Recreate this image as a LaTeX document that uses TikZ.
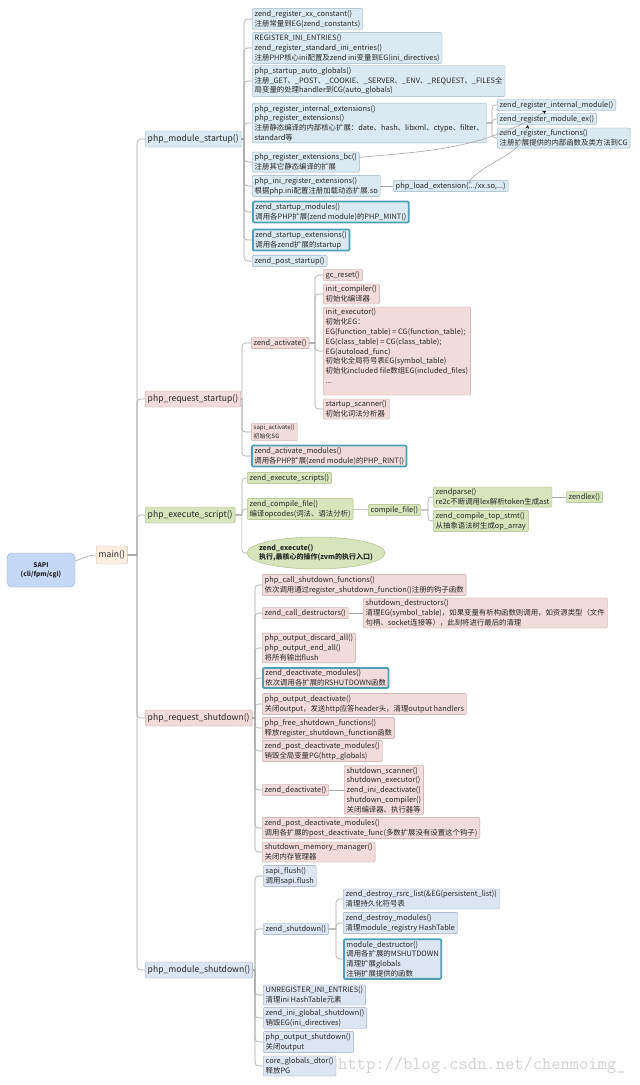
\documentclass[tikz,border=0pt]{standalone}
\usepackage{fontspec}
\setmainfont{Noto Sans CJK SC}
\usetikzlibrary{shapes.geometric,calc}
\definecolor{linkcol}{RGB}{165,165,165}
\definecolor{startfill}{RGB}{219,234,242}
\definecolor{startline}{RGB}{150,180,196}
\definecolor{reqfill}{RGB}{242,220,219}
\definecolor{reqline}{RGB}{196,160,160}
\definecolor{execfill}{RGB}{215,228,188}
\definecolor{execline}{RGB}{168,186,130}
\definecolor{stopfill}{RGB}{220,230,242}
\definecolor{stopline}{RGB}{150,168,196}
\definecolor{sapifill}{RGB}{197,217,247}
\definecolor{sapiline}{RGB}{140,170,215}
\definecolor{mainfill}{RGB}{253,238,226}
\definecolor{mainline}{RGB}{214,190,170}
\definecolor{hotline}{RGB}{78,160,184}

\begin{document}
\begin{tikzpicture}[x=1pt,y=1pt,>=stealth,
	fn node/.style={draw,rounded corners=1.2pt,anchor=west,align=left,inner xsep=2.5pt,inner ysep=1.8pt,text=black!85,font=\fontsize{7.4}{9.8}\selectfont},
	top node/.style={fn node,minimum height=16pt,font=\fontsize{8.6}{10}\selectfont},
	sapi node/.style={draw=sapiline,fill=sapifill,rounded corners=5pt,minimum width=68pt,minimum height=34pt,align=center,text=black!85,font=\fontsize{6.5}{9}\selectfont\bfseries},
	startup col/.style={fill=startfill,draw=startline},
	request col/.style={fill=reqfill,draw=reqline},
	execute col/.style={fill=execfill,draw=execline},
	shutdown col/.style={fill=stopfill,draw=stopline},
	hot/.style={draw=hotline,line width=1.8pt},
	branch/.style={to path={(\tikztostart.east) -- ($(\tikztostart.east -| \tikztotarget.west)+(-#1,0)$) ($(\tikztostart.east -| \tikztotarget.west)+(-#1,0)$) [rounded corners=3.5pt] |- (\tikztotarget.west)}},
	branch/.default=7pt,
	link/.style={draw=linkcol,line width=0.6pt}]

	\fill[white] (0,0) rectangle (640,-1085);
	\useasboundingbox (0,0) rectangle (640,-1085);

	\node[anchor=west,inner sep=0pt,text=black!18,font=\ttfamily\fontsize{18}{18}\selectfont] (mark) at (338,-1065) {http://blog.csdn.net/chenmoimg\_};

	\node[sapi node] (sapi) at (41,-570) {SAPI\\(cli/fpm/cgi)};
	\node[top node,fill=mainfill,draw=mainline,minimum height=18pt] (main) at (96,-555) {main()};

	\node[top node,startup col] (mstart) at (145,-139) {php\_module\_startup()};
	\node[top node,request col] (rstart) at (145,-399) {php\_request\_startup()};
	\node[top node,execute col] (exec) at (145,-515) {php\_execute\_script()};
	\node[top node,request col] (rstop) at (145,-718) {php\_request\_shutdown()};
	\node[top node,shutdown col] (mstop) at (145,-970) {php\_module\_shutdown()};

	\node[fn node,startup col] (s1) at (252,-19) {zend\_register\_xx\_constant()\\注册常量到EG(zend\_constants)};
	\node[fn node,startup col] (s2) at (252,-48) {REGISTER\_INI\_ENTRIES()\\zend\_register\_standard\_ini\_entries()\\注册PHP核心ini配置及zend ini变量到EG(ini\_directives)};
	\node[fn node,startup col] (s3) at (252,-81) {php\_startup\_auto\_globals()\\注册\_GET、\_POST、\_COOKIE、\_SERVER、\_ENV、\_REQUEST、\_FILES全\\局变量的处理handler到CG(auto\_globals)};
	\node[fn node,startup col] (s4) at (252,-123) {php\_register\_internal\_extensions()\\php\_register\_extensions()\\注册静态编译的内部核心扩展：date、hash、libxml、ctype、filter、\\standard等};
	\node[fn node,startup col] (s41) at (497,-105) {zend\_register\_internal\_module()};
	\node[fn node,startup col] (s42) at (497,-119) {zend\_register\_module\_ex()};
	\node[fn node,startup col] (s43) at (497,-138) {zend\_register\_functions()\\注册扩展提供的内部函数及类方法到CG};
	\node[fn node,startup col] (s5) at (252,-162) {php\_register\_extensions\_bc()\\注册其它静态编译的扩展};
	\node[fn node,startup col] (s6) at (252,-186) {php\_ini\_register\_extensions()\\根据php.ini配置注册加载动态扩展.so};
	\node[fn node,startup col] (s61) at (393,-186) {php\_load\_extension(.../xx.so,...)};
	\node[fn node,startup col,hot] (s7) at (252,-212) {zend\_startup\_modules()\\调用各PHP扩展(zend module)的PHP\_MINT()};
	\node[fn node,startup col,hot] (s8) at (252,-240) {zend\_startup\_extensions()\\调用各zend扩展的startup};
	\node[fn node,startup col] (s9) at (252,-261) {zend\_post\_startup()};

	\node[fn node,request col] (r1) at (251,-343) {zend\_activate()};
	\node[fn node,request col] (r11) at (323,-275) {gc\_reset()};
	\node[fn node,request col] (r12) at (323,-294) {init\_compiler()\\初始化编译器};
	\node[fn node,request col] (r13) at (323,-351) {init\_executor()\\初始化EG：\\EG(function\_table) = CG(function\_table);\\EG(class\_table) = CG(class\_table);\\EG(autoload\_func)\\初始化全局符号表EG(symbol\_table)\\初始化included file数组EG(included\_files)\\...\\ };
	\node[fn node,request col] (r14) at (323,-409) {startup\_scanner()\\初始化词法分析器};
	\node[fn node,request col,font=\fontsize{6}{8.5}\selectfont] (r2) at (251,-432) {sapi\_activate()\\初始化SG};
	\node[fn node,request col,hot] (r3) at (251,-456) {zend\_activate\_modules()\\调用各PHP扩展(zend module)的PHP\_RINT()};

	\node[fn node,execute col] (e1) at (247,-478) {zend\_execute\_scripts()};
	\node[fn node,execute col] (e2) at (247,-509) {zend\_compile\_file()\\编译opcodes(词法、语法分析)};
	\node[fn node,execute col] (e21) at (368,-510) {compile\_file()};
	\node[fn node,execute col] (e211) at (433,-497) {zendparse()\\re2c不断调用lex解析token生成ast};
	\node[fn node,execute col] (e2111) at (566,-497) {zendlex()};
	\node[fn node,execute col] (e212) at (433,-521) {zend\_compile\_top\_stmt()\\从抽象语法树生成op\_array};
	\node[fn node,execute col,ellipse,anchor=center,minimum width=138pt,minimum height=32pt,inner xsep=-16pt,inner ysep=2pt,font=\fontsize{7}{9.4}\selectfont\bfseries] (e3) at (316,-553) {zend\_execute()\\执行,最核心的操作(zvm的执行入口)};

	\node[fn node,request col] (q1) at (262,-585) {php\_call\_shutdown\_functions()\\依次调用通过register\_shutdown\_function()注册的钩子函数};
	\node[fn node,request col] (q2) at (262,-613) {zend\_call\_destructors()};
	\node[fn node,request col] (q21) at (363,-613) {shutdown\_destructors()\\清理EG(symbol\_table)，如果变量有析构函数则调用，如资源类型（文件\\句柄、socket连接等），此刻将进行最后的清理};
	\node[fn node,request col] (q3) at (262,-648) {php\_output\_discard\_all()\\php\_output\_end\_all()\\将所有输出flush};
	\node[fn node,request col,hot] (q4) at (262,-678) {zend\_deactivate\_modules()\\依次调用各扩展的RSHUTDOWN函数};
	\node[fn node,request col] (q5) at (262,-704) {php\_output\_deactivate()\\关闭output，发送http应答header头，清理output handlers};
	\node[fn node,request col] (q6) at (262,-728) {php\_free\_shutdown\_functions()\\释放register\_shutdown\_function函数};
	\node[fn node,request col] (q7) at (262,-751) {zend\_post\_deactivate\_modules()\\销毁全局变量PG(http\_globals)};
	\node[fn node,request col] (q8) at (262,-790) {zend\_deactivate()};
	\node[fn node,request col] (q81) at (344,-790) {shutdown\_scanner()\\shutdown\_executor()\\zend\_ini\_deactivate()\\shutdown\_compiler()\\关闭编译器、执行器等};
	\node[fn node,request col] (q9) at (262,-828) {zend\_post\_deactivate\_modules()\\调用各扩展的post\_deactivate\_func(多数扩展没有设置这个钩子)};
	\node[fn node,request col] (q10) at (262,-852) {shutdown\_memory\_manager()\\关闭内存管理器};

	\node[fn node,shutdown col] (m1) at (263,-876) {sapi\_flush()\\调用sapi.flush};
	\node[fn node,shutdown col] (m2) at (263,-929) {zend\_shutdown()};
	\node[fn node,shutdown col] (m21) at (343,-899) {zend\_destroy\_rsrc\_list(\&EG(persistent\_list))\\清理持久化符号表};
	\node[fn node,shutdown col] (m22) at (343,-923) {zend\_destroy\_modules()\\清理module\_registry HashTable};
	\node[fn node,shutdown col,hot] (m23) at (343,-959) {module\_destructor()\\调用各扩展的MSHUTDOWN\\清理扩展globals\\注销扩展提供的函数};
	\node[fn node,shutdown col] (m3) at (263,-995) {UNREGISTER\_INI\_ENTRIES()\\清理ini HashTable元素};
	\node[fn node,shutdown col] (m4) at (263,-1018) {zend\_ini\_global\_shutdown()\\销毁EG(ini\_directives)};
	\node[fn node,shutdown col] (m5) at (263,-1042) {php\_output\_shutdown()\\关闭output};
	\node[fn node,shutdown col] (m6) at (263,-1066) {core\_globals\_dtor()\\释放PG};

	\path[link]
	(sapi) edge[out=15,in=180] (main)
	(main) edge[branch=8pt] (mstart)
	edge[branch=8pt] (rstart)
	edge[branch=8pt] (exec)
	edge[branch=8pt] (rstop)
	edge[branch=8pt] (mstop)
	(mstart) edge[branch=8pt] (s1)
	edge[branch=8pt] (s2)
	edge[branch=8pt] (s3)
	edge[branch=8pt] (s4)
	edge[branch=8pt] (s5)
	edge[branch=8pt] (s6)
	edge[branch=8pt] (s7)
	edge[branch=8pt] (s8)
	edge[branch=8pt] (s9)
	(s4) edge[branch=5pt] (s41)
	edge[branch=5pt] (s42)
	edge[branch=5pt] (s43)
	(s6) edge (s61)
	(rstart) edge[branch=9pt] (r1)
	edge[branch=9pt] (r2)
	edge[branch=9pt] (r3)
	(r1) edge[branch=8pt] (r11)
	edge[branch=8pt] (r12)
	edge[branch=8pt] (r13)
	edge[branch=8pt] (r14)
	(exec) edge[branch=5pt] (e1)
	edge[branch=5pt] (e2)
	edge[branch=5pt] (e3)
	(e2) edge (e21)
	(e21) edge[branch=5pt] (e211)
	edge[branch=5pt] (e212)
	(e211) edge (e2111)
	(rstop) edge[branch] (q1)
	edge[branch] (q2)
	edge[branch] (q3)
	edge[branch] (q4)
	edge[branch] (q5)
	edge[branch] (q6)
	edge[branch] (q7)
	edge[branch] (q8)
	edge[branch] (q9)
	edge[branch] (q10)
	(q2) edge (q21)
	(q8) edge (q81)
	(mstop) edge[branch=8pt] (m1)
	edge[branch=8pt] (m2)
	edge[branch=8pt] (m3)
	edge[branch=8pt] (m4)
	edge[branch=8pt] (m5)
	edge[branch=8pt] (m6)
	(m2) edge[branch] (m21)
	edge[branch] (m22)
	edge[branch] (m23);

	\path[link,->]
	(s5) edge[out=5,in=210] (s41)
	([xshift=19pt]s61.north) edge[out=45,in=-100] ([xshift=-19pt]s42.south);

\end{tikzpicture}
\end{document}
